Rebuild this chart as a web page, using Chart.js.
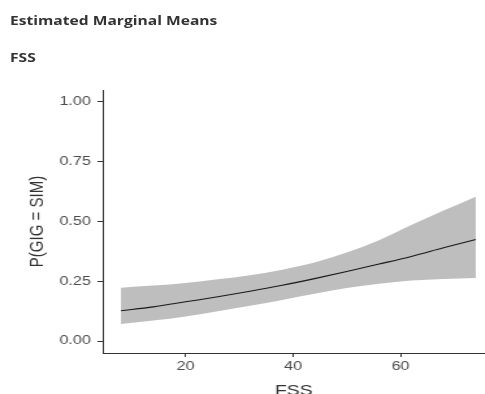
<!DOCTYPE html>
<html>
<head>
<meta charset="utf-8">
<script src="https://cdn.jsdelivr.net/npm/chart.js@4"></script>
<style>
  html, body { margin: 0; padding: 0; background: #fff; overflow: hidden; }
  #wrap { position: relative; width: 485px; height: 394px; overflow: hidden; }
  /* the source picture is stretched sideways, so the whole plot is too */
  .stretch { position: absolute; left: 0; top: 0; transform: scaleX(1.3); transform-origin: 0 0; }
  .hd { left: 10px; font-family: "Open Sans", "Noto Sans", sans-serif; font-weight: bold; font-size: 12px; color: #333; white-space: nowrap; }
</style>
</head>
<body>
<div id="wrap">
  <div class="stretch" style="width:373px;height:410px;">
    <canvas id="chart" width="373" height="410"></canvas>
  </div>
  <div class="stretch hd" style="left:10px;top:12px;">Estimated Marginal Means</div>
  <div class="stretch hd" style="left:10px;top:49px;">FSS</div>
</div>
<script>
'use strict';

// values
var fss   = [8, 14, 20, 26, 32, 38, 44, 50, 56, 62, 68, 74];
var mean  = [0.127, 0.143, 0.164, 0.185, 0.208, 0.233, 0.261, 0.291, 0.322, 0.354, 0.390, 0.425];
var lower = [0.071, 0.086, 0.103, 0.125, 0.148, 0.172, 0.198, 0.222, 0.240, 0.253, 0.260, 0.264];
var upper = [0.223, 0.232, 0.243, 0.258, 0.275, 0.298, 0.328, 0.370, 0.422, 0.485, 0.546, 0.604];
var xTicks = [20, 40, 60];
var yTicks = [0, 0.25, 0.5, 0.75, 1.0];

function pts(ys) {
  return fss.map(function (x, i) { return { x: x, y: ys[i] }; });
}

var tickFont = { family: "'Liberation Sans', Arial, sans-serif", size: 12.5 };
var titleFont = { family: "'Liberation Sans', Arial, sans-serif", size: 15 };

new Chart(document.getElementById('chart'), {
  type: 'line',
  data: {
    datasets: [
      // mean first so it is drawn on top of the band
      { data: pts(mean), borderColor: '#1a1a1a', borderWidth: 1.1, pointRadius: 0, fill: false, cubicInterpolationMode: 'monotone' },
      { data: pts(lower), borderWidth: 0, borderColor: 'rgba(0,0,0,0)', pointRadius: 0, fill: false, cubicInterpolationMode: 'monotone' },
      { data: pts(upper), borderWidth: 0, borderColor: 'rgba(0,0,0,0)', pointRadius: 0, fill: '-1', backgroundColor: '#BEBEBE', cubicInterpolationMode: 'monotone' }
    ]
  },
  options: {
    responsive: false,
    animation: false,
    devicePixelRatio: 1,
    layout: { padding: { top: 90, right: 0, left: 0, bottom: 0 } },
    plugins: { legend: { display: false }, tooltip: { enabled: false } },
    scales: {
      x: {
        type: 'linear',
        min: 4.6,
        max: 75.7,
        afterBuildTicks: function (s) { s.ticks = xTicks.map(function (v) { return { value: v }; }); },
        afterFit: function (s) { s.height = 57; },
        grid: { drawOnChartArea: false, drawTicks: true, tickLength: 4, tickColor: '#333', lineWidth: 1 },
        border: { display: true, color: '#333', width: 1 },
        ticks: { color: '#4D4D4D', font: tickFont, padding: 2, maxRotation: 0 },
        title: { display: true, text: 'FSS', color: '#333', font: titleFont, padding: { top: 0, bottom: 10 } }
      },
      y: {
        min: -0.05,
        max: 1.05,
        afterBuildTicks: function (s) { s.ticks = yTicks.map(function (v) { return { value: v }; }); },
        afterFit: function (s) { s.width = 79; },
        grid: { drawOnChartArea: false, drawTicks: true, tickLength: 4, tickColor: '#333', lineWidth: 1 },
        border: { display: true, color: '#333', width: 1 },
        ticks: { color: '#4D4D4D', font: tickFont, padding: 5, callback: function (v) { return v.toFixed(2); } },
        title: { display: true, text: 'P(GIG = SIM)', color: '#333', font: titleFont, padding: { top: 20, bottom: 0 } }
      }
    }
  }
});
</script>
</body>
</html>
